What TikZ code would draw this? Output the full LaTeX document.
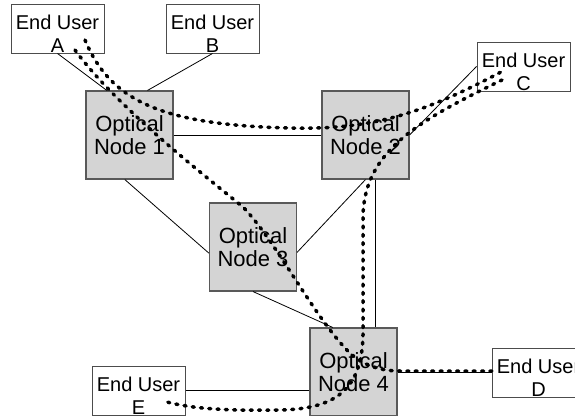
\documentclass[tikz,border=0pt]{standalone}
\usepackage{fontspec}
\setmainfont{Liberation Sans}
\usepackage{tikz}
\usetikzlibrary{positioning,calc}

% two-line end user label, set a little low in its box
\newcommand{\userlabel}[1]{\rule{0pt}{25pt}End User\\#1}

\begin{document}
\begin{tikzpicture}[
    x=1pt,
    y=-1pt,
    optical/.style={draw=black!65, fill=black!17, line width=1.1pt, minimum width=87pt, minimum height=88pt, inner sep=0pt, align=center, font=\fontsize{22}{23}\selectfont},
    enduser/.style={draw=black!70, fill=white, line width=1pt, minimum width=93pt, minimum height=49pt, inner sep=0pt, align=center, font=\fontsize{20}{23}\selectfont},
    link/.style={line width=0.8pt, draw=black},
    lightpath/.style={line width=3.5pt, line cap=round, dash pattern=on 2pt off 6.3pt}
]

% Canvas: pixel coordinates, y pointing down
\useasboundingbox (0,0) rectangle (575,415);
\clip (0,0) rectangle (575,415);

% End users
\node[enduser] (userA) at (57.5,28.5) {\userlabel{A}};
\node[enduser] (userB) at (212.5,28.5) {\userlabel{B}};
\node[enduser] (userC) at (523.5,66.5) {\userlabel{C}};
\node[enduser] (userD) at (538.5,372.5) {\userlabel{D}};
\node[enduser] (userE) at (138.5,390.5) {\userlabel{E}};

% Optical nodes
\node[optical] (node1) at (129.5,135) {Optical\\Node 1};
\node[optical] (node2) at (365.5,135) {Optical\\Node 2};
\node[optical] (node3) at (253,247) {Optical\\Node 3};
\node[optical] (node4) at (353.5,372) {Optical\\Node 4};

% Fibre links
\draw[link] (userA.south) -- (node1.117);
\draw[link] (userB.south) -- (node1.68);
\draw[link] (node1.east) -- (node2.west);
\draw[link] (node1.264) -- (node3.188);
\draw[link] (node2.south) -- (node3.353);
\draw[link] (node2.-78) -- (node2.-78 |- node4.north);
\draw[link] (userC.west) -- (node2.east);
\draw[link] (node3.south) -- (node4.115);
\draw[link] (userE.east) -- (userE.east -| node4.west);
\draw[link] (node4.east) -- (node4.east -| userD.west);

% Lightpath end points
\coordinate (srcA1) at (85,40);
\coordinate (dstC) at (501,72);
\coordinate (srcA2) at (75,50);
\coordinate (dstD) at (497,371);
\coordinate (srcC) at (502,80);
\coordinate (dstE) at (167,402);

% Lightpaths
% A -> C over node 1 and node 2
\draw[lightpath] (srcA1) .. controls (110,100) and (160,125) .. (290,128)
    .. controls (370,130) and (420,115) .. (dstC);
% A -> D over node 1, node 3 and node 4
\draw[lightpath] (srcA2) .. controls (115,105) and (200,172) .. (243,207)
    .. controls (275,240) and (310,310) .. (345,348)
    .. controls (360,365) and (380,371) .. (400,371) -- (dstD);
% C -> E over node 2 and node 4
\draw[lightpath] (srcC) .. controls (420,120) and (365,150) .. (363,215) -- (363,335)
    .. controls (362,390) and (335,409) .. (280,410)
    .. controls (220,411) and (190,408) .. (dstE);

\end{tikzpicture}
\end{document}
